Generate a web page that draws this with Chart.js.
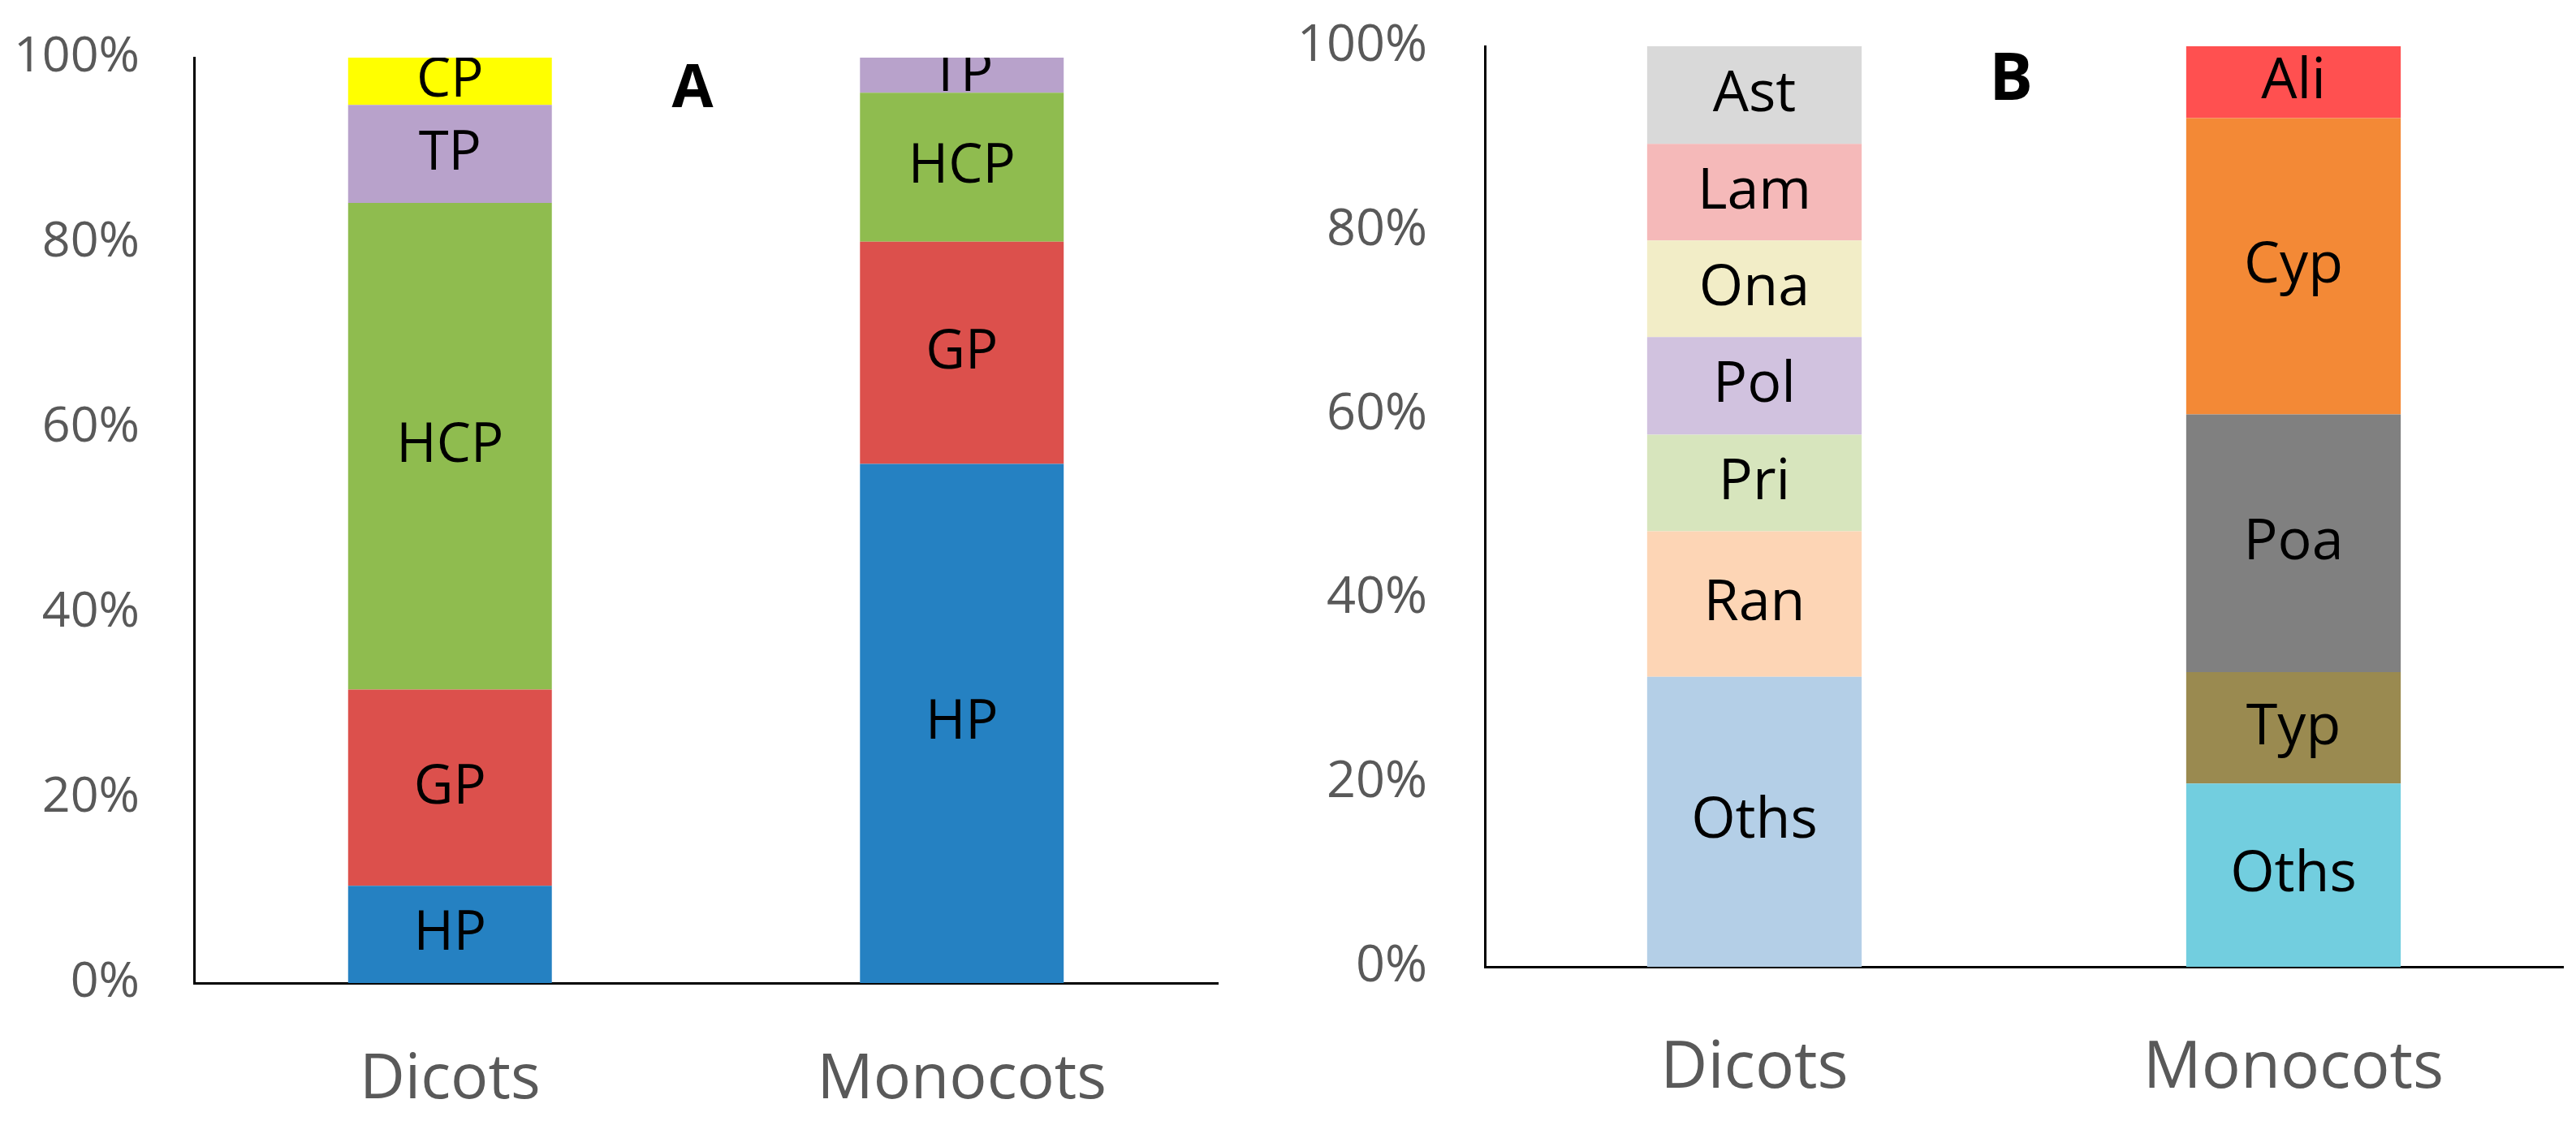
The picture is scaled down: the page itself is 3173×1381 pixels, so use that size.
<!DOCTYPE html>
<html>
<head>
<meta charset="utf-8">
<title>Dicots vs Monocots</title>
<script src="https://cdn.jsdelivr.net/npm/chart.js@4.4.1/dist/chart.umd.min.js"></script>
<style>
  html, body { margin: 0; padding: 0; background: #fff; }
  #wrap { position: relative; width: 3173px; height: 1381px; overflow: hidden; }
  .panel { position: absolute; top: 0; }
  #panelA { left: 0; }
  #panelB { left: 1586px; }
</style>
</head>
<body>
<div id="wrap">
  <div class="panel" id="panelA"><canvas id="chartA" width="1586" height="1381"></canvas></div>
  <div class="panel" id="panelB"><canvas id="chartB" width="1587" height="1381"></canvas></div>
</div>
<script>
const categories = ['Dicots', 'Monocots'];
const yTicks = [0, 20, 40, 60, 80, 100];

// A: pollination types, % per group
const typeNames = ['HP', 'GP', 'HCP', 'TP', 'CP'];
const hpShare  = [10.5, 56.1];
const gpShare  = [21.2, 24.0];
const hcpShare = [52.6, 16.1];
const tpShare  = [10.6, 3.8];
const cpShare  = [5.1, 0];
const typeColors = ['#2581c2', '#dc504c', '#8fbc4f', '#b8a2cb', '#ffff00'];

// B: families, % per group
const dicotFamilies = ['Oths', 'Ran', 'Pri', 'Pol', 'Ona', 'Lam', 'Ast'];
const dicotShares   = [31.5, 15.8, 10.5, 10.6, 10.5, 10.5, 10.6];
const dicotColors   = ['#b4cfe7', '#fdd5b5', '#d7e5bd', '#d1c2df', '#f2edc7', '#f5b9b9', '#d9d9d9'];
const monocotFamilies = ['Oths', 'Typ', 'Poa', 'Cyp', 'Ali'];
const monocotShares   = [19.9, 12.1, 28.0, 32.2, 7.8];
const monocotColors   = ['#72cedf', '#9a8a50', '#808080', '#f38936', '#ff5050'];

const FONT = '"Open Sans", "Noto Sans", sans-serif';

// draws the series name in the middle of each segment
const segmentLabels = {
    id: 'segmentLabels',
    afterDatasetsDraw(chart, args, opts) {
        const { ctx, chartArea } = chart;
        ctx.save();
        ctx.beginPath();
        ctx.rect(chartArea.left, chartArea.top, chartArea.right - chartArea.left, chartArea.bottom - chartArea.top);
        ctx.clip();
        ctx.font = opts.size + 'px ' + FONT;
        ctx.fillStyle = '#000';
        ctx.textAlign = 'center';
        ctx.textBaseline = 'middle';
        chart.data.datasets.forEach((ds, i) => {
            chart.getDatasetMeta(i).data.forEach((bar, j) => {
                if (!ds.data[j]) return;
                ctx.fillText(ds.label, bar.x, (bar.y + bar.base) / 2);
            });
        });
        ctx.restore();
    }
};

// panel letter (A / B)
const panelLetter = {
    id: 'panelLetter',
    afterDraw(chart, args, opts) {
        const { ctx, chartArea } = chart;
        ctx.save();
        ctx.font = 'bold ' + opts.size + 'px ' + FONT;
        ctx.fillStyle = '#000';
        ctx.textAlign = 'center';
        ctx.textBaseline = 'middle';
        ctx.fillText(opts.text, chartArea.left + opts.fx * (chartArea.right - chartArea.left), chartArea.top + opts.dy);
        ctx.restore();
    }
};

function makeChart(id, datasets, cfg) {
    const ctx = document.getElementById(id).getContext('2d');
    return new Chart(ctx, {
        type: 'bar',
        data: { labels: categories, datasets: datasets },
        plugins: [segmentLabels, panelLetter],
        options: {
            responsive: false,
            animation: false,
            layout: { padding: { top: cfg.top, right: cfg.right, left: 0, bottom: 0 } },
            datasets: { bar: { categoryPercentage: 1, barPercentage: 0.398, borderWidth: 0 } },
            scales: {
                x: {
                    stacked: true,
                    grid: { display: false, drawTicks: false },
                    border: { display: true, color: '#000', width: 3 },
                    ticks: {
                        color: '#595959',
                        font: { family: FONT, size: cfg.catSize },
                        padding: cfg.catPad,
                        maxRotation: 0,
                        autoSkip: false
                    },
                    afterFit: s => {
                        s.height = cfg.xHeight;
                        s.paddingLeft = 0;
                        s.paddingRight = 0;
                    }
                },
                y: {
                    stacked: true,
                    min: 0,
                    max: 100,
                    afterBuildTicks: s => { s.ticks = yTicks.map(v => ({ value: v })); },
                    grid: { display: false, drawTicks: false },
                    border: { display: true, color: '#000', width: 3 },
                    ticks: {
                        color: '#595959',
                        font: { family: FONT, size: cfg.tickSize },
                        padding: cfg.tickPad,
                        callback: v => v + '%'
                    },
                    afterFit: s => {
                        // tick padding would otherwise push the plot top down
                        s.width = cfg.yWidth;
                        s.paddingTop = 0;
                        s.paddingBottom = 0;
                    }
                }
            },
            plugins: {
                legend: { display: false },
                tooltip: { enabled: false },
                segmentLabels: { size: cfg.segSize },
                panelLetter: { text: cfg.letter, size: cfg.letterSize, fx: cfg.letterFx, dy: cfg.letterDy }
            }
        }
    });
}

const typeData = [hpShare, gpShare, hcpShare, tpShare, cpShare];
const datasetsA = typeNames.map((name, i) => ({
    label: name,
    data: typeData[i],
    backgroundColor: typeColors[i]
}));

const datasetsB = dicotFamilies.map((name, i) => ({
    label: name,
    data: [dicotShares[i], null],
    backgroundColor: dicotColors[i]
})).concat(monocotFamilies.map((name, i) => ({
    label: name,
    data: [null, monocotShares[i]],
    backgroundColor: monocotColors[i]
})));

makeChart('chartA', datasetsA, {
    top: 71, right: 86, yWidth: 239, xHeight: 170,
    tickSize: 61, tickPad: 67, catSize: 77, catPad: 74, segSize: 67,
    letter: 'A', letterSize: 74, letterFx: 0.487, letterDy: 40
});

makeChart('chartB', datasetsB, {
    top: 57, right: 16, yWidth: 243, xHeight: 190,
    tickSize: 63, tickPad: 71, catSize: 80, catPad: 78, segSize: 70,
    letter: 'B', letterSize: 80, letterFx: 0.488, letterDy: 43
});
</script>
</body>
</html>
